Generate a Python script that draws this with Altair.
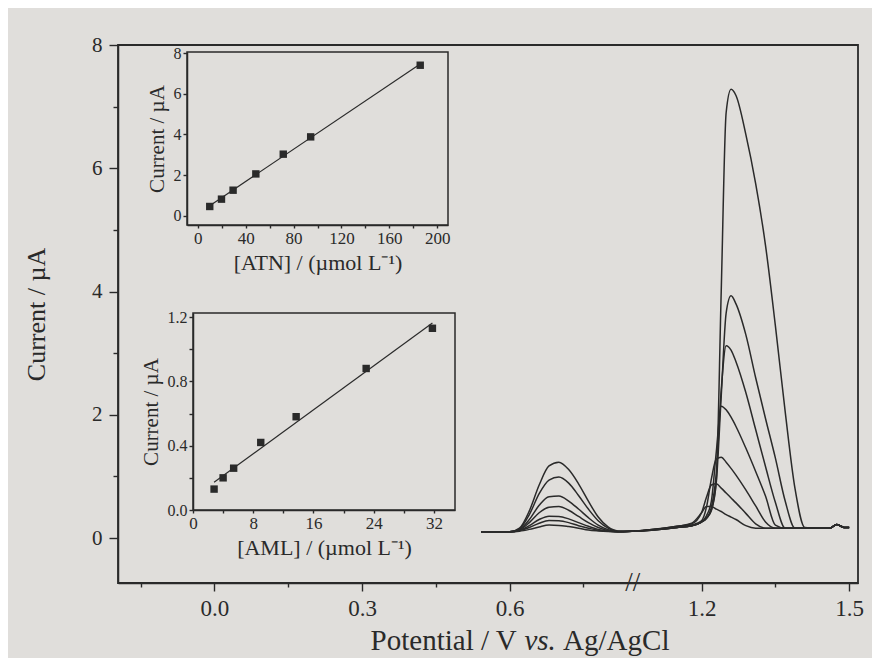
import altair as alt
import pandas as pd

# ---------------- data ----------------
# Main voltammograms: first peak group (potential in V, current in uA)
G1_V = [0.542, 0.60, 0.62, 0.64, 0.66, 0.68, 0.70, 0.72, 0.74, 0.76, 0.78, 0.80, 0.82, 0.85]
G1_I = [
    [0.10, 0.10, 0.11, 0.14, 0.18, 0.21, 0.205, 0.185, 0.16, 0.13, 0.115, 0.105, 0.10, 0.11],
    [0.10, 0.10, 0.12, 0.17, 0.24, 0.285, 0.28, 0.25, 0.20, 0.16, 0.125, 0.108, 0.10, 0.11],
    [0.10, 0.10, 0.12, 0.20, 0.30, 0.355, 0.35, 0.31, 0.25, 0.19, 0.14, 0.112, 0.102, 0.11],
    [0.10, 0.10, 0.13, 0.25, 0.41, 0.50, 0.51, 0.45, 0.35, 0.25, 0.17, 0.12, 0.103, 0.11],
    [0.10, 0.10, 0.14, 0.30, 0.53, 0.67, 0.68, 0.60, 0.47, 0.33, 0.21, 0.135, 0.105, 0.11],
    [0.10, 0.10, 0.15, 0.38, 0.72, 0.94, 0.99, 0.89, 0.69, 0.47, 0.28, 0.16, 0.11, 0.11],
    [0.10, 0.10, 0.16, 0.44, 0.86, 1.17, 1.23, 1.11, 0.88, 0.60, 0.34, 0.18, 0.115, 0.11],
]
# second peak group (after the axis break)
G2_V = [1.06, 1.15, 1.18, 1.20, 1.21, 1.22, 1.23, 1.24, 1.25, 1.26, 1.27, 1.29, 1.31,
        1.33, 1.35, 1.37, 1.39, 1.41, 1.43, 1.46, 1.475, 1.49, 1.50]
G2_I = [
    [0.11, 0.19, 0.24, 0.41, 0.51, 0.51, 0.47, 0.43, 0.38, 0.34, 0.30, 0.20, 0.16, 0.16, 0.16, 0.16, 0.16, 0.16, 0.16, 0.16, 0.22, 0.17, 0.17],
    [0.11, 0.19, 0.23, 0.41, 0.66, 0.86, 0.88, 0.81, 0.73, 0.65, 0.57, 0.40, 0.23, 0.16, 0.16, 0.16, 0.16, 0.16, 0.16, 0.16, 0.22, 0.17, 0.17],
    [0.11, 0.18, 0.21, 0.28, 0.50, 0.96, 1.28, 1.31, 1.23, 1.13, 1.02, 0.78, 0.52, 0.26, 0.16, 0.16, 0.16, 0.16, 0.16, 0.16, 0.22, 0.17, 0.17],
    [0.11, 0.17, 0.20, 0.26, 0.36, 0.60, 1.40, 2.14, 2.08, 1.96, 1.81, 1.46, 1.08, 0.68, 0.21, 0.16, 0.16, 0.16, 0.16, 0.16, 0.22, 0.17, 0.17],
    [0.11, 0.17, 0.20, 0.26, 0.32, 0.50, 1.05, 2.40, 3.12, 3.05, 2.86, 2.36, 1.76, 1.16, 0.58, 0.16, 0.16, 0.16, 0.16, 0.16, 0.22, 0.17, 0.17],
    [0.11, 0.17, 0.20, 0.26, 0.32, 0.45, 0.90, 2.30, 3.65, 3.93, 3.80, 3.30, 2.60, 1.94, 1.30, 0.60, 0.16, 0.16, 0.16, 0.16, 0.22, 0.17, 0.17],
    [0.11, 0.17, 0.20, 0.26, 0.32, 0.45, 0.95, 4.00, 6.90, 7.28, 7.18, 6.55, 5.75, 4.75, 3.45, 2.05, 0.80, 0.17, 0.16, 0.16, 0.22, 0.17, 0.17],
]
# Calibration insets
ATN_CONC = [10.0, 19.8, 29.5, 48.5, 71.4, 94.3, 185.8]
ATN_CUR = [0.46, 0.82, 1.26, 2.06, 3.03, 3.88, 7.40]
AML_CONC = [2.8, 4.0, 5.4, 9.0, 13.7, 23.0, 31.8]
AML_CUR = [0.13, 0.20, 0.26, 0.42, 0.58, 0.88, 1.13]

# axis tick lists
MAIN_X_MAJOR = [0.0, 0.3, 0.6, 1.2, 1.5]
MAIN_X_MINOR = [-0.15, 0.15, 0.45, 0.75, 1.35]
MAIN_Y_TICKS = [0, 1, 2, 3, 4, 5, 6, 7, 8]
ATN_X_TICKS = [0, 20, 40, 60, 80, 100, 120, 140, 160, 180, 200]
ATN_Y_TICKS = [0, 2, 4, 6, 8]
AML_X_TICKS = [0, 4, 8, 12, 16, 20, 24, 28, 32]
AML_Y_TICKS = [0.0, 0.2, 0.4, 0.6, 0.8, 1.0, 1.2]

# x-axis title pieces (middle one set in italics)
X_TITLE_PARTS = ["Potential / V", "vs.", "Ag/AgCl"]
X_TITLE_STYLE = ["normal", "italic", "normal"]

# ---------------- layout / style ----------------
BREAK_LO, BREAK_HI = 0.85, 1.06
GAP = round(BREAK_HI - BREAK_LO, 4)
W, H = 740, 538
INK = "#2a2a2a"
PAPER = "#e0dedb"
FONT = "Liberation Serif"
TITLE_SIZE = 29
# Times-metric advance widths (em) of the title pieces and of a space
PART_EM = [5.056, 1.083, 3.667]
SPACE_EM = 0.25
TITLE_CENTER = 402  # relative to plot left

rows = []
for k in range(7):
    for v, i in zip(G1_V, G1_I[k]):
        rows.append({"curve": k, "V": v, "I": i})
    for v, i in zip(G2_V, G2_I[k]):
        rows.append({"curve": k, "V": v, "I": i})
curves_df = pd.DataFrame(rows)

def to_plot(v):
    return round(v if v <= BREAK_LO else v - GAP, 4)

x_vals = sorted(to_plot(v) for v in MAIN_X_MAJOR + MAIN_X_MINOR)
vexpr = f"(datum.value > {BREAK_LO} ? datum.value + {GAP} : datum.value)"
x_minor_test = f"round({vexpr} * 100) % 30 !== 0"

main_x_axis = alt.Axis(
    values=x_vals, orient="bottom", grid=False,
    labelExpr=f"{x_minor_test} ? '' : format({vexpr}, '.1f')",
    tickSize={"condition": {"test": x_minor_test, "value": 4}, "value": 8},
    labelFontSize=23, labelPadding=6, labelOverlap=False, labelFlush=False,
    title="",
)
main_y_axis = alt.Axis(
    values=MAIN_Y_TICKS, orient="left", grid=False,
    labelExpr="datum.value % 2 === 0 ? datum.label : ''",
    tickSize={"condition": {"test": "datum.value % 2 !== 0", "value": 5}, "value": 9},
    labelFontSize=21, labelPadding=7, labelOverlap=False, labelFlush=False,
    title="Current / µA", titleFontSize=26, titlePadding=42,
)
main_xs = alt.Scale(domain=[-0.196, 1.308], nice=False, zero=False)
main_ys = alt.Scale(domain=[-0.73, 8.0], nice=False, zero=False)

curves = alt.Chart(curves_df).transform_calculate(
    xp=f"datum.V > {BREAK_LO} ? datum.V - {GAP} : datum.V"
).mark_line(color=INK, strokeWidth=1.5, interpolate="monotone").encode(
    x=alt.X("xp:Q", scale=main_xs, axis=main_x_axis),
    y=alt.Y("I:Q", scale=main_ys, axis=main_y_axis),
    detail="curve:N",
    order="V:Q",
)
brk = alt.Chart(pd.DataFrame({"xp": [BREAK_LO], "I": [-0.73]})).mark_text(
    text="//", fontSize=27, font=FONT, color=INK, baseline="middle", align="center"
).encode(
    x=alt.X("xp:Q", scale=main_xs, axis=main_x_axis),
    y=alt.Y("I:Q", scale=main_ys, axis=main_y_axis),
)

# x-axis title built from pieces so that "vs." can be italic
total_w = (sum(PART_EM) + SPACE_EM * (len(PART_EM) - 1)) * TITLE_SIZE
x0 = TITLE_CENTER - total_w / 2
title_layers = []
for txt, style, em in zip(X_TITLE_PARTS, X_TITLE_STYLE, PART_EM):
    title_layers.append(
        alt.Chart(pd.DataFrame({"t": [txt]})).mark_text(
            font=FONT, fontSize=TITLE_SIZE, fontStyle=style, color=INK,
            align="left", baseline="alphabetic",
        ).encode(text="t:N", x=alt.value(round(x0, 1)), y=alt.value(H + 67))
    )
    x0 += (em + SPACE_EM) * TITLE_SIZE

main = alt.layer(curves, brk, *title_layers)


def inset(conc, cur, xdom, ydom, xr, yr, xticks, yticks, xlab_expr, ylab_expr, xtitle):
    df = pd.DataFrame({"c": conc, "i": cur})
    xs = alt.Scale(domain=xdom, range=xr, nice=False, zero=False)
    ys = alt.Scale(domain=ydom, range=yr, nice=False, zero=False)
    xa = alt.Axis(values=xticks, orient="bottom", offset=yr[0] - H, grid=False,
                  labelExpr=xlab_expr, tickSize=3, labelPadding=2, labelFontSize=17,
                  labelOverlap=False, labelFlush=False,
                  title=xtitle, titleFontSize=22, titlePadding=6)
    ya = alt.Axis(values=yticks, orient="left", offset=-xr[0], grid=False,
                  labelExpr=ylab_expr, tickSize=4, labelPadding=2, labelFontSize=16,
                  labelOverlap=False, labelFlush=False,
                  title="Current / µA", titleFontSize=21, titlePadding=6)
    pts = alt.Chart(df).mark_square(size=55, color=INK, opacity=1).encode(
        x=alt.X("c:Q", scale=xs, axis=xa), y=alt.Y("i:Q", scale=ys, axis=ya))
    fit = alt.Chart(df).transform_regression("c", "i").mark_line(
        color=INK, strokeWidth=1.2).encode(
        x=alt.X("c:Q", scale=xs, axis=xa), y=alt.Y("i:Q", scale=ys, axis=ya))
    frame_df = pd.DataFrame({"c": [xdom[0]], "c2": [xdom[1]], "i": [ydom[0]], "i2": [ydom[1]]})
    frame = alt.Chart(frame_df).mark_rect(fillOpacity=0, stroke=INK, strokeWidth=1.5).encode(
        x=alt.X("c:Q", scale=xs, axis=xa), x2="c2:Q",
        y=alt.Y("i:Q", scale=ys, axis=ya), y2="i2:Q")
    return alt.layer(frame, fit, pts)


inset_atn = inset(
    ATN_CONC, ATN_CUR, [-9, 209], [-0.45, 8.05], [69, 330], [180, 7],
    ATN_X_TICKS, ATN_Y_TICKS,
    "datum.value % 40 === 0 ? datum.label : ''", "datum.label",
    "[ATN] / (µmol L⁻¹)",
)
inset_aml = inset(
    AML_CONC, AML_CUR, [0, 34.8], [0, 1.225], [75, 337], [465, 268],
    AML_X_TICKS, AML_Y_TICKS,
    "datum.value % 8 === 0 ? datum.label : ''",
    "round(datum.value * 10) % 4 === 0 ? format(datum.value, '.1f') : ''",
    "[AML] / (µmol L⁻¹)",
)

chart = alt.layer(main, inset_atn, inset_aml).resolve_scale(
    x="independent", y="independent"
).properties(
    width=W, height=H,
    autosize=alt.AutoSizeParams(type="none"),
    padding={"left": 110, "top": 37, "right": 14, "bottom": 75},
    background=PAPER,
).configure_view(
    stroke=INK, strokeWidth=1.8
).configure_axis(
    domainColor=INK, tickColor=INK, labelColor=INK, titleColor=INK,
    labelFont=FONT, titleFont=FONT, titleFontWeight="normal",
    domainWidth=1.5, tickWidth=1.4,
)

chart.save("out.html", embed_options={"renderer": "svg", "actions": False})
